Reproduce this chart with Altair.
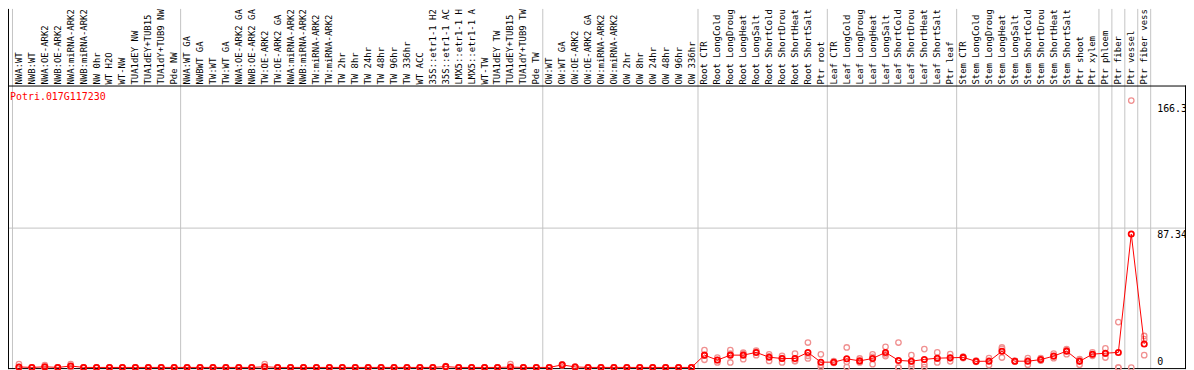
import altair as alt
import pandas as pd

gene = "Potri.017G117230"

categories = [
    "NWA:WT", "NWB:WT", "NWA:OE-ARK2", "NWB:OE-ARK2", "NWA:miRNA-ARK2", "NWB:miRNA-ARK2",
    "NW 0hr", "WT H2O", "WT-NW", "TUA1dEY NW", "TUA1dEY+TUB15 NW", "TUA1dY+TUB9 NW", "Pde NW",
    "NWA:WT GA", "NWBWT GA", "TW:WT", "TW:WT GA", "NWA:OE-ARK2 GA", "NWB:OE-ARK2 GA",
    "TW:OE-ARK2", "TW:OE-ARK2 GA", "NWA:miRNA-ARK2 GA", "NWB:miRNA-ARK2 GA", "TW:miRNA-ARK2",
    "TW:miRNA-ARK2 GA", "TW 2hr", "TW 8hr", "TW 24hr", "TW 48hr", "TW 96hr", "TW 336hr",
    "WT ACC", "35S::etr1-1 H2O", "35S::etr1-1 ACC", "LMX5::etr1-1 H2O", "LMX5::etr1-1 ACC",
    "WT-TW", "TUA1dEY TW", "TUA1dEY+TUB15 TW", "TUA1dY+TUB9 TW", "Pde TW",
    "OW:WT", "OW:WT GA", "OW:OE-ARK2", "OW:OE-ARK2 GA", "OW:miRNA-ARK2", "OW:miRNA-ARK2 GA",
    "OW 2hr", "OW 8hr", "OW 24hr", "OW 48hr", "OW 96hr", "OW 336hr",
    "Root CTR", "Root LongCold", "Root LongDrought", "Root LongHeat", "Root LongSalt",
    "Root ShortCold", "Root ShortDrought", "Root ShortHeat", "Root ShortSalt", "Ptr root",
    "Leaf CTR", "Leaf LongCold", "Leaf LongDrought", "Leaf LongHeat", "Leaf LongSalt",
    "Leaf ShortCold", "Leaf ShortDrought", "Leaf ShortHeat", "Leaf ShortSalt", "Ptr leaf",
    "Stem CTR", "Stem LongCold", "Stem LongDrought", "Stem LongHeat", "Stem LongSalt",
    "Stem ShortCold", "Stem ShortDrought", "Stem ShortHeat", "Stem ShortSalt", "Ptr shoot",
    "Ptr xylem", "Ptr phloem", "Ptr fiber", "Ptr vessel", "Ptr fiber vessel",
]

means = [
    0.4, 0.1, 0.5, 0.1, 1.0, 0.1, 0.1, 0.1, 0.1, 0.1, 0.1, 0.1, 0.1,
    0.1, 0.1, 0.1, 0.1, 0.1, 0.1, 0.5, 0.1, 0.1, 0.1, 0.1, 0.1, 0.1, 0.1, 0.1,
    0.1, 0.1, 0.1, 0.1, 0.1, 0.6, 0.1, 0.1, 0.1, 0.1, 0.3, 0.1, 0.1,
    0.1, 1.7, 0.4, 0.1, 0.1, 0.1, 0.1, 0.1, 0.1, 0.1, 0.1, 0.1,
    7.8, 4.7, 7.8, 7.8, 9.5, 6.5, 5.7, 5.7, 9.5, 3.4,
    3.4, 5.5, 4.2, 5.7, 9.5, 4.5, 4.0, 5.1, 5.9, 6.1,
    6.4, 3.9, 4.0, 10.2, 4.0, 4.0, 5.0, 7.2, 10.3, 3.9,
    8.4, 9.0, 9.5, 83.6, 14.8,
]

replicates = [
    [2.2, 0.3, 0.0], [0.1, 0.1, 0.1], [1.6, 0.0, 0.0], [0.1, 0.1, 0.1], [2.2, 0.9, 0.0],
    [0.1, 0.1, 0.1], [0.1, 0.1, 0.1], [0.1, 0.1, 0.1], [0.1, 0.1, 0.1], [0.1, 0.1, 0.1],
    [0.1, 0.1, 0.1], [0.1, 0.1, 0.1], [0.1, 0.1, 0.1],
    [0.1, 0.1, 0.1], [0.1, 0.1, 0.1], [0.1, 0.1, 0.1], [0.1, 0.1, 0.1], [0.1, 0.1, 0.1],
    [0.1, 0.1, 0.1], [2.2, 0.0, 0.0], [0.1, 0.1, 0.1], [0.1, 0.1, 0.1], [0.1, 0.1, 0.1],
    [0.1, 0.1, 0.1], [0.1, 0.1, 0.1], [0.1, 0.1, 0.1], [0.1, 0.1, 0.1], [0.1, 0.1, 0.1],
    [0.1, 0.1, 0.1], [0.1, 0.1, 0.1], [0.1, 0.1, 0.1], [0.1, 0.1, 0.1], [0.1, 0.1, 0.1],
    [0.9, 0.6, 0.3], [0.1, 0.1, 0.1], [0.1, 0.1, 0.1], [0.1, 0.1, 0.1], [0.1, 0.1, 0.1],
    [2.2, 0.0, 0.0], [0.1, 0.1, 0.1], [0.1, 0.1, 0.1],
    [0.1, 0.1, 0.1], [2.0, 1.6, 1.5], [0.6, 0.4, 0.2], [0.1, 0.1, 0.1], [0.1, 0.1, 0.1],
    [0.1, 0.1, 0.1], [0.1, 0.1, 0.1], [0.1, 0.1, 0.1], [0.1, 0.1, 0.1], [0.1, 0.1, 0.1],
    [0.1, 0.1, 0.1], [0.1, 0.1, 0.1],
    [10.9, 7.6, 4.9], [6.3, 4.6, 3.2], [10.9, 8.8, 3.2], [8.8, 9.3, 5.3], [10.1, 10.6, 7.8],
    [8.3, 7.0, 4.2], [7.4, 5.9, 3.2], [8.8, 4.2, 4.1], [15.7, 7.4, 5.7], [8.3, 0.3, 1.6],
    [4.0, 3.2, 3.0], [12.6, 0.3, 3.6], [5.7, 3.7, 3.2], [8.3, 6.7, 2.1], [13.0, 8.3, 7.2],
    [15.7, 0.0, 0.0], [7.8, 2.1, 0.3], [11.6, 2.1, 0.3], [9.5, 5.6, 3.2], [8.4, 5.9, 3.9],
    [6.8, 6.0, 6.4], [4.3, 3.6, 3.8], [5.9, 4.4, 1.6], [12.6, 11.7, 6.3], [4.4, 3.8, 3.9],
    [5.9, 4.3, 1.8], [6.0, 4.6, 4.4], [8.8, 6.9, 5.9], [11.6, 10.9, 8.4], [5.3, 4.6, 1.8],
    [9.5, 8.3, 7.4], [12.0, 8.7, 6.3], [28.5, 0.0, 0.0], [167.2, 0.0], [19.8, 17.8, 7.8],
]

group_bounds = [-0.5, 12.5, 40.5, 52.5, 62.5, 72.5, 83.5, 84.5, 85.5, 86.5, 87.5]
grid_values = [87.34]
ytick_values = [166.3, 87.34, 0.0]
ytick_labels = ["166.3", "87.34", "0"]

W, H = 1184, 362
STEP = 13.0
PX_PER_UNIT = 1.6052
X_DOMAIN = [-11.0 / STEP, -11.0 / STEP + W / STEP]
Y_DOMAIN = [-1.5 / PX_PER_UNIT, 360.5 / PX_PER_UNIT]
FONT = "DejaVu Sans Mono"

xs = alt.Scale(domain=X_DOMAIN, nice=False, zero=False)
ys = alt.Scale(domain=Y_DOMAIN, nice=False, zero=False)

df = pd.DataFrame({"idx": list(range(len(categories))), "label": categories, "mean": means})
rep_df = pd.DataFrame(
    [{"idx": i, "value": v} for i, reps in enumerate(replicates) for v in reps]
)
bounds_df = pd.DataFrame({"b": group_bounds})
grid_df = pd.DataFrame({"g": grid_values})
ytick_df = pd.DataFrame({"v": ytick_values, "t": ytick_labels})
title_df = pd.DataFrame({"name": [gene]})
one = pd.DataFrame({"d": [0]})

vlines = alt.Chart(bounds_df).mark_rule(color="#c4c4c4", strokeWidth=1).encode(
    x=alt.X("b:Q", scale=xs, axis=None), y=alt.value(0), y2=alt.value(H)
)
hline = alt.Chart(grid_df).mark_rule(color="#c4c4c4", strokeWidth=1).encode(
    y=alt.Y("g:Q", scale=ys, axis=None), x=alt.value(0), x2=alt.value(W)
)
frame_top = alt.Chart(one).mark_rule(color="black", strokeWidth=1).encode(
    x=alt.value(0), x2=alt.value(W), y=alt.value(77.5)
)
frame_bottom = alt.Chart(one).mark_rule(color="black", strokeWidth=1).encode(
    x=alt.value(0), x2=alt.value(W), y=alt.value(361.5)
)
frame_left = alt.Chart(one).mark_rule(color="black", strokeWidth=1).encode(
    x=alt.value(0.5), y=alt.value(0), y2=alt.value(H)
)
frame_right = alt.Chart(one).mark_rule(color="black", strokeWidth=1).encode(
    x=alt.value(W - 0.5), y=alt.value(77), y2=alt.value(H)
)

cat_labels = alt.Chart(df).mark_text(
    angle=270, align="left", baseline="middle", font=FONT, fontSize=9, color="black",
    limit=76, ellipsis="\u200b"
).encode(x=alt.X("idx:Q", scale=xs, axis=None), y=alt.value(76), text="label:N")

rep_pts = alt.Chart(rep_df).mark_point(
    shape="circle", filled=False, color="#f09090", size=30, strokeWidth=1.3, opacity=1
).encode(x=alt.X("idx:Q", scale=xs, axis=None), y=alt.Y("value:Q", scale=ys, axis=None))

line = alt.Chart(df).mark_line(color="#ff0000", strokeWidth=1).encode(
    x=alt.X("idx:Q", scale=xs, axis=None), y=alt.Y("mean:Q", scale=ys, axis=None)
)
mean_pts = alt.Chart(df).mark_point(
    shape="circle", filled=False, color="#ff0000", size=28, strokeWidth=1.8, opacity=1
).encode(x=alt.X("idx:Q", scale=xs, axis=None), y=alt.Y("mean:Q", scale=ys, axis=None))

ylab_hi = alt.Chart(ytick_df).transform_filter("datum.v > 0").mark_text(
    align="left", baseline="alphabetic", dy=10, font=FONT, fontSize=10, color="black"
).encode(x=alt.value(1155), y=alt.Y("v:Q", scale=ys, axis=None), text="t:N")
ylab_lo = alt.Chart(ytick_df).transform_filter("datum.v <= 0").mark_text(
    align="left", baseline="alphabetic", dy=-3, font=FONT, fontSize=10, color="black"
).encode(x=alt.value(1155), y=alt.Y("v:Q", scale=ys, axis=None), text="t:N")

title = alt.Chart(title_df).mark_text(
    align="left", baseline="alphabetic", font=FONT, fontSize=10, color="#ff0000"
).encode(x=alt.value(2), y=alt.value(92), text="name:N")

chart = alt.layer(
    vlines, hline, frame_top, frame_bottom, frame_left, frame_right,
    cat_labels, rep_pts, line, mean_pts, ylab_hi, ylab_lo, title,
).properties(
    width=W, height=H, autosize=alt.AutoSizeParams(type="none"), padding=0
).configure_view(strokeWidth=0)

chart.save("out.html", embed_options={"renderer": "svg", "actions": False})
